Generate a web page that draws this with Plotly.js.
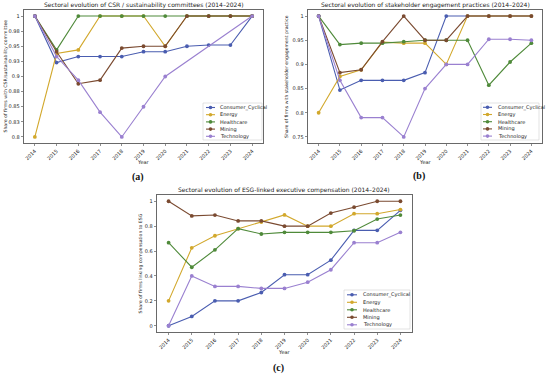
<!DOCTYPE html>
<html>
<head>
<meta charset="utf-8">
<script src="https://cdn.plot.ly/plotly-3.0.1.min.js"></script>
<style>html,body{margin:0;padding:0;background:#fff;}#chart{width:550px;height:376px;}</style>
</head>
<body>
<div id="chart"></div>
<script>
const years = [2014,2015,2016,2017,2018,2019,2020,2021,2022,2023,2024];
const sectors = ['Consumer_Cyclical','Energy','Healthcare','Mining','Technology'];
const sectorColors = ['#4a5db0','#d2a82c','#4f8a3a','#7a4a30','#9a80d0'];

// (a) CSR / sustainability committees
const csrConsumer   = [1,0.923,0.933,0.933,0.933,0.941,0.941,0.95,0.952,0.952,1];
const csrEnergy     = [0.8,0.938,0.944,1,1,1,0.95,1,1,1,1];
const csrHealthcare = [1,0.944,1,1,1,1,1,1,1,1,1];
const csrMining     = [1,0.941,0.888,0.894,0.947,0.95,0.95,1,1,1,1];
const csrTechnology = [1,0.933,0.894,0.841,0.8,0.85,0.9,null,null,null,1];

// (b) stakeholder engagement
const stkConsumer   = [1,0.847,0.867,0.867,0.867,0.883,1,1,1,1,1];
const stkEnergy     = [0.8,0.875,0.889,0.946,0.944,0.944,0.9,1,1,1,1];
const stkHealthcare = [1,0.941,0.944,0.944,0.947,0.95,0.95,0.95,0.857,0.905,0.944];
const stkMining     = [1,0.883,0.889,0.947,1,0.95,0.95,1,1,1,1];
const stkTechnology = [1,0.867,0.79,0.79,0.75,0.85,0.9,0.9,0.952,0.952,0.95];

// (c) ESG-linked executive compensation
const cmpConsumer   = [0,0.075,0.2,0.2,0.267,0.41,0.41,0.527,0.766,0.766,0.927];
const cmpEnergy     = [0.2,0.626,0.723,0.78,0.833,0.89,0.8,0.8,0.9,0.9,0.933];
const cmpHealthcare = [0.667,0.47,0.61,0.78,0.737,0.75,0.75,0.75,0.763,0.857,0.889];
const cmpMining     = [1,0.882,0.889,0.842,0.842,0.8,0.8,0.905,0.952,1,1];
const cmpTechnology = [0,0.4,0.316,0.316,0.3,0.3,0.35,0.45,0.667,0.667,0.75];

const csrTickVals = [0.8,0.825,0.85,0.875,0.9,0.925,0.95,0.975,1];
const csrTickText = ['0.8','0.83','0.85','0.88','0.9','0.93','0.95','0.98','1'];
const stkTickVals = [0.75,0.8,0.85,0.9,0.95,1];
const stkTickText = ['0.75','0.8','0.85','0.9','0.95','1'];
const cmpTickVals = [0,0.2,0.4,0.6,0.8,1];
const cmpTickText = ['0','0.2','0.4','0.6','0.8','1'];

const titles = [
  'Sectoral evolution of CSR / sustainability committees (2014–2024)',
  'Sectoral evolution of stakeholder engagement practices (2014–2024)',
  'Sectoral evolution of ESG-linked executive compensation (2014–2024)'
];
const yTitles = [
  'Share of firms with CSR/sustainability committee',
  'Share of firms with stakeholder engagement practice',
  'Share of firms linking compensation to ESG'
];
const captions = ['(a)','(b)','(c)'];

const W = 550, H = 376;
const px = x => x / W;
const py = y => 1 - y / H;
const FONT = 'DejaVu Sans, sans-serif';

// panel boxes in pixels: left, right, top, bottom
const panels = [
  {l:24, r:263, t:10, b:143, yr:[0.79,1.01], tv:csrTickVals, tt:csrTickText,
   data:[csrConsumer,csrEnergy,csrHealthcare,csrMining,csrTechnology],
   ytx:5, xty:162, capy:177, leg:{x0:203,x1:262,y0:103,y1:140,ys:[107.5,114.7,121.9,129.1,136.3],lx0:206,lx1:215,tx:218}},
  {l:308, r:542, t:10, b:143, yr:[0.7375,1.0125], tv:stkTickVals, tt:stkTickText,
   data:[stkConsumer,stkEnergy,stkHealthcare,stkMining,stkTechnology],
   ytx:286.5, xty:162, capy:176, leg:{x0:481,x1:539,y0:103,y1:140,ys:[107.3,114.5,121.7,128.9,136.1],lx0:483,lx1:492,tx:496}},
  {l:157, r:412, t:195, b:332, yr:[-0.05,1.05], tv:cmpTickVals, tt:cmpTickText,
   data:[cmpConsumer,cmpEnergy,cmpHealthcare,cmpMining,cmpTechnology],
   ytx:140, xty:352, capy:368, leg:{x0:344,x1:410,y0:290,y1:329,ys:[294.8,302.3,309.8,317.3,324.8],lx0:347,lx1:357,tx:361}}
];

const traces = [];
const layout = {
  width: W, height: H,
  margin: {l:0, r:0, t:0, b:0},
  paper_bgcolor: '#fff', plot_bgcolor: '#fff',
  showlegend: false,
  font: {family: FONT, size: 5, color: '#222'},
  annotations: [], shapes: []
};

panels.forEach((p, i) => {
  const sfx = i === 0 ? '' : String(i + 1);
  const xa = 'xaxis' + sfx, ya = 'yaxis' + sfx;
  layout[xa] = {
    domain: [px(p.l), px(p.r)], anchor: 'y' + sfx, range: [2013.5, 2024.5],
    tickvals: years, ticktext: years.map(String), tickangle: -45,
    showline: true, mirror: true, linecolor: '#444', linewidth: 0.8,
    ticks: 'outside', ticklen: 2.5, tickwidth: 0.6, tickcolor: '#444',
    tickfont: {size: 5, family: FONT, color: '#222'},
    showgrid: false, zeroline: false, fixedrange: true
  };
  layout[ya] = {
    domain: [py(p.b), py(p.t)], anchor: 'x' + sfx, range: p.yr,
    tickvals: p.tv, ticktext: p.tt,
    showline: true, mirror: true, linecolor: '#444', linewidth: 0.8,
    ticks: 'outside', ticklen: 2.5, tickwidth: 0.6, tickcolor: '#444',
    tickfont: {size: 5, family: FONT, color: '#222'},
    showgrid: false, zeroline: false, fixedrange: true
  };
  p.data.forEach((vals, k) => {
    traces.push({
      type: 'scatter', mode: 'lines+markers', x: years, y: vals,
      xaxis: 'x' + sfx, yaxis: 'y' + sfx, name: sectors[k],
      connectgaps: true, cliponaxis: false,
      line: {color: sectorColors[k], width: 1.1},
      marker: {color: sectorColors[k], size: 3.8}
    });
  });
  const cx = (p.l + p.r) / 2;
  layout.annotations.push({
    xref: 'paper', yref: 'paper', x: px(cx), y: py(p.t - 4.8),
    xanchor: 'center', yanchor: 'middle', showarrow: false, borderpad: 0,
    text: titles[i], font: {size: 6, family: FONT, color: '#222'}
  });
  layout.annotations.push({
    xref: 'paper', yref: 'paper', x: px(p.ytx), y: py((p.t + p.b) / 2),
    xanchor: 'center', yanchor: 'middle', showarrow: false, textangle: -90,
    text: yTitles[i], font: {size: 4.6, family: FONT, color: '#222'}
  });
  layout.annotations.push({
    xref: 'paper', yref: 'paper', x: px(cx), y: py(p.xty),
    xanchor: 'center', yanchor: 'middle', showarrow: false,
    text: 'Year', font: {size: 5, family: FONT, color: '#222'}
  });
  layout.annotations.push({
    xref: 'paper', yref: 'paper', x: px(cx - 6), y: py(p.capy),
    xanchor: 'center', yanchor: 'middle', showarrow: false,
    text: '<b>' + captions[i] + '</b>',
    font: {size: 10, family: 'Liberation Serif, DejaVu Serif, serif', color: '#111'}
  });
  // legend box
  const lg = p.leg;
  layout.shapes.push({
    type: 'rect', xref: 'paper', yref: 'paper',
    x0: px(lg.x0), x1: px(lg.x1), y0: py(lg.y1), y1: py(lg.y0),
    line: {color: '#d0d0d0', width: 0.6}, fillcolor: 'rgba(255,255,255,0.85)'
  });
  sectors.forEach((s, k) => {
    const yy = lg.ys[k];
    layout.shapes.push({
      type: 'line', xref: 'paper', yref: 'paper',
      x0: px(lg.lx0), x1: px(lg.lx1), y0: py(yy), y1: py(yy),
      line: {color: sectorColors[k], width: 1.1}
    });
    const mx = (lg.lx0 + lg.lx1) / 2;
    layout.shapes.push({
      type: 'circle', xref: 'paper', yref: 'paper',
      x0: px(mx - 1.8), x1: px(mx + 1.8), y0: py(yy + 1.8), y1: py(yy - 1.8),
      line: {color: sectorColors[k], width: 0}, fillcolor: sectorColors[k]
    });
    layout.annotations.push({
      xref: 'paper', yref: 'paper', x: px(lg.tx), y: py(yy),
      xanchor: 'left', yanchor: 'middle', showarrow: false,
      text: s, font: {size: 5, family: FONT, color: '#222'}
    });
  });
});

Plotly.newPlot('chart', traces, layout, {staticPlot: true, displayModeBar: false});
</script>
</body>
</html>
